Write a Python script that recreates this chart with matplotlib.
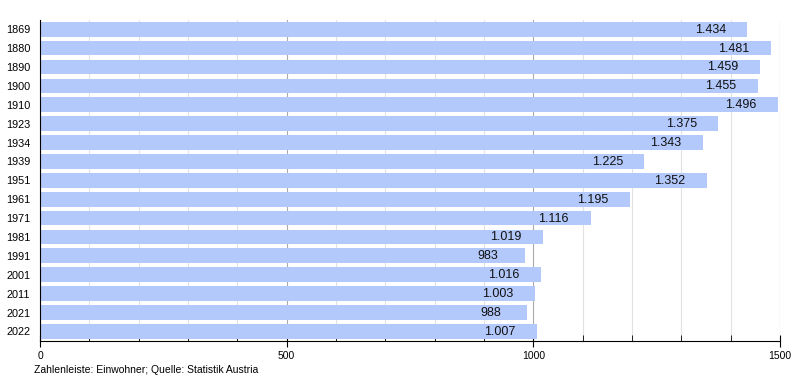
import matplotlib.pyplot as plt
from matplotlib.ticker import MultipleLocator

plt.rcParams['font.family'] = ['Liberation Sans', 'DejaVu Sans']

years = ['1869', '1880', '1890', '1900', '1910', '1923', '1934', '1939', '1951',
         '1961', '1971', '1981', '1991', '2001', '2011', '2021', '2022']
einwohner = [1434, 1481, 1459, 1455, 1496, 1375, 1343, 1225, 1352,
             1195, 1116, 1019, 983, 1016, 1003, 988, 1007]

bar_c = '#b3c8fb'

fig = plt.figure(figsize=(8, 3.8), dpi=100)
ax = fig.add_axes([0.05, 0.103, 0.925, 0.845])

pos = list(range(len(years)))
ax.barh(pos, einwohner, height=0.78, color=bar_c, zorder=2)

for p, v in zip(pos, einwohner):
    # Tausenderpunkt wie im Original
    txt = f'{v:,}'.replace(',', '.')
    ax.annotate(txt, (v, p), xytext=(-37, -0.5), textcoords='offset pixels',
                ha='center', va='center', fontsize=9, color='#111111', zorder=3)

ax.set_ylim(len(years) - 0.5, -0.5)
ax.set_xlim(0, 1500)
ax.set_yticks(pos)
ax.set_yticklabels(years, fontsize=7.8)
ax.tick_params(axis='y', length=0, pad=7)

ax.xaxis.set_major_locator(MultipleLocator(500))
ax.xaxis.set_minor_locator(MultipleLocator(100))
ax.tick_params(axis='x', which='major', direction='inout', length=8, labelsize=7.5, pad=3)
ax.tick_params(axis='x', which='minor', direction='in', length=4)

ax.grid(axis='x', which='minor', color='#e2e2e2', lw=0.8, zorder=0)
ax.grid(axis='x', which='major', color='#aaaaaa', lw=0.8, zorder=0)

for s in ['top', 'right']:
    ax.spines[s].set_visible(False)
ax.spines['left'].set_color('black')
ax.spines['bottom'].set_color('black')
ax.spines['left'].set_zorder(4)
ax.spines['bottom'].set_zorder(4)

fig.text(34 / 800, 1 - 370 / 380, 'Zahlenleiste: Einwohner; Quelle: Statistik Austria',
         fontsize=7.5, ha='left', va='center')

plt.savefig('out.png')
